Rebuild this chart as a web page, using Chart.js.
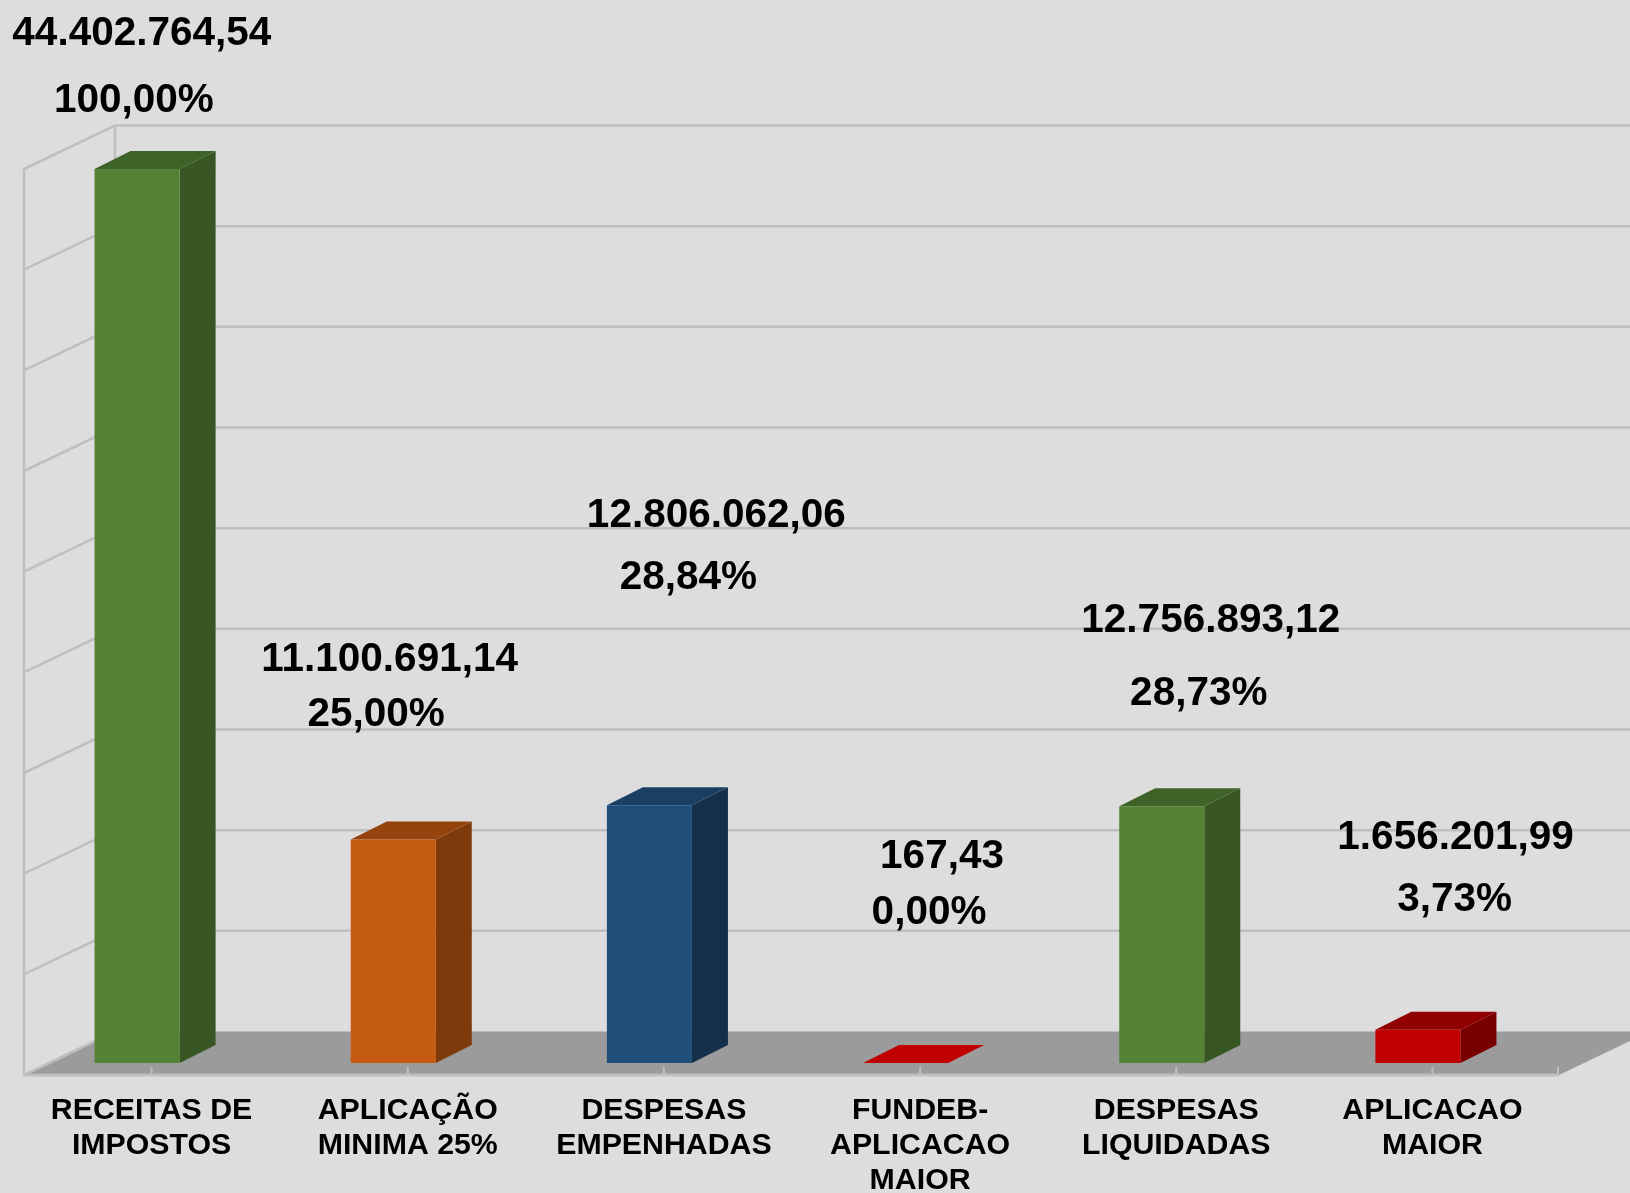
<!DOCTYPE html>
<html>
<head>
<meta charset="utf-8">
<style>
html,body{margin:0;padding:0;background:#dddddd;overflow:hidden}
canvas{display:block}
</style>
<script src="https://cdn.jsdelivr.net/npm/chart.js@4"></script>
</head>
<body>
<canvas id="c" width="1630" height="1193"></canvas>
<script>
const categories = [
  ["RECEITAS DE","IMPOSTOS"],
  ["APLICAÇÃO","MINIMA 25%"],
  ["DESPESAS","EMPENHADAS"],
  ["FUNDEB-","APLICACAO","MAIOR"],
  ["DESPESAS","LIQUIDADAS"],
  ["APLICACAO","MAIOR"]
];
const values = [44402764.54, 11100691.14, 12806062.06, 167.43, 12756893.12, 1656201.99];
const valueLabels = ["44.402.764,54","11.100.691,14","12.806.062,06","167,43","12.756.893,12","1.656.201,99"];
const percentLabels = ["100,00%","25,00%","28,84%","0,00%","28,73%","3,73%"];
const frontColors = ["#548235","#C55A11","#1F4E79","#C00000","#548235","#C00000"];
const topColors   = ["#3F6228","#96440D","#1A3F63","#C00000","#3F6228","#900000"];
const sideColors  = ["#375623","#7F3A0C","#152F4B","#7A0000","#375623","#7A0000"];
const valueOffsets   = [[4.75,-135.5],[-3.65,-180],[66.95,-289],[36.45,-206],[49.05,-185],[37.65,-192.2]];
const percentOffsets = [[-3.25,-68.5],[-17.15,-125],[38.95,-227.5],[23.45,-150.5],[37.05,-112.5],[36.65,-130.2]];

const yMax = 45000000, yStep = 5000000;
const GRID = "#bfbfbf", FLOOR = "#9b9b9b";
const depth = {x:36, y:18};         // bar depth
const sideShift = 14.5;             // labels and ticks sit right of the bar front
const front = {dy:12};              // front wall plane vs. bar plane
const back  = {dy:-31.5};           // back wall plane vs. bar plane
const wallX = {front:24, back:115};
const floorRight = 1559;

const scene = {
  id:"scene",
  beforeDatasetsDraw(chart){
    const {ctx, scales:{x, y}} = chart;
    const y0 = y.getPixelForValue(0);
    ctx.save();
    // floor
    ctx.fillStyle = FLOOR;
    ctx.beginPath();
    ctx.moveTo(wallX.front, y0+front.dy);
    ctx.lineTo(floorRight, y0+front.dy);
    ctx.lineTo(floorRight+wallX.back-wallX.front, y0+back.dy);
    ctx.lineTo(wallX.back, y0+back.dy);
    ctx.closePath();
    ctx.fill();
    // gridlines: side wall and back wall
    ctx.strokeStyle = GRID;
    ctx.lineWidth = 2.5;
    y.ticks.forEach(t=>{
      const p = y.getPixelForValue(t.value);
      ctx.beginPath();
      if(t.value>0){
        ctx.moveTo(wallX.front, p+front.dy);
        ctx.lineTo(wallX.back, p+back.dy);
        ctx.lineTo(floorRight+wallX.back-wallX.front, p+back.dy);
      }else{
        ctx.moveTo(wallX.front, p+front.dy);
        ctx.lineTo(wallX.back, p+back.dy);
      }
      ctx.stroke();
    });
    // wall verticals
    const top = y.getPixelForValue(yMax), bot = y0;
    ctx.beginPath();
    ctx.moveTo(wallX.front, top+front.dy); ctx.lineTo(wallX.front, bot+front.dy);
    ctx.moveTo(wallX.back, top+back.dy); ctx.lineTo(wallX.back, bot+back.dy);
    ctx.stroke();
    // front floor edge and ticks
    ctx.lineWidth = 3;
    ctx.beginPath();
    ctx.moveTo(wallX.front-1, y0+front.dy); ctx.lineTo(floorRight, y0+front.dy);
    ctx.stroke();
    ctx.lineWidth = 2;
    const tickXs = categories.map((_,i)=>x.getPixelForTick(i)+sideShift).concat(floorRight-1);
    tickXs.forEach(px=>{
      ctx.beginPath();
      ctx.moveTo(px, y0+4); ctx.lineTo(px, y0+front.dy);
      ctx.stroke();
    });
    // bar depth faces
    chart.getDatasetMeta(0).data.forEach((b,i)=>{
      const l=b.x-b.width/2, r=b.x+b.width/2, t=b.y, bt=y0;
      ctx.fillStyle = sideColors[i];
      ctx.beginPath();
      ctx.moveTo(r,t); ctx.lineTo(r+depth.x,t-depth.y);
      ctx.lineTo(r+depth.x,bt-depth.y); ctx.lineTo(r,bt);
      ctx.closePath(); ctx.fill();
      ctx.fillStyle = topColors[i];
      ctx.beginPath();
      ctx.moveTo(l,t); ctx.lineTo(l+depth.x,t-depth.y);
      ctx.lineTo(r+depth.x,t-depth.y); ctx.lineTo(r,t);
      ctx.closePath(); ctx.fill();
    });
    ctx.restore();
  },
  afterDraw(chart){
    const {ctx} = chart;
    ctx.save();
    ctx.fillStyle = "#000";
    ctx.font = "bold 40.5px 'Liberation Sans'";
    ctx.textAlign = "center";
    ctx.textBaseline = "middle";
    chart.getDatasetMeta(0).data.forEach((b,i)=>{
      ctx.fillText(valueLabels[i], b.x+valueOffsets[i][0], b.y+valueOffsets[i][1]);
      ctx.fillText(percentLabels[i], b.x+percentOffsets[i][0], b.y+percentOffsets[i][1]);
    });
    ctx.restore();
  }
};

new Chart(document.getElementById("c"),{
  type:"bar",
  data:{labels:categories,datasets:[{
    data:values,
    backgroundColor:frontColors,
    borderWidth:0,
    barPercentage:0.332,
    categoryPercentage:1
  }]},
  options:{
    responsive:false,
    animation:false,
    layout:{padding:{left:9,right:84,top:157,bottom:0}},
    plugins:{legend:{display:false},tooltip:{enabled:false},title:{display:false}},
    scales:{
      y:{display:false,min:0,max:yMax,ticks:{stepSize:yStep},grid:{display:false}},
      x:{
        afterFit(s){s.height=130;},
        border:{display:false},
        grid:{display:false,drawTicks:false},
        ticks:{
          autoSkip:false,maxRotation:0,minRotation:0,
          labelOffset:sideShift,
          padding:30,
          color:"#000",
          font:{family:"'Liberation Sans'",weight:"bold",size:30.3,lineHeight:1.155}
        }
      }
    }
  },
  plugins:[scene]
});
</script>
</body>
</html>
